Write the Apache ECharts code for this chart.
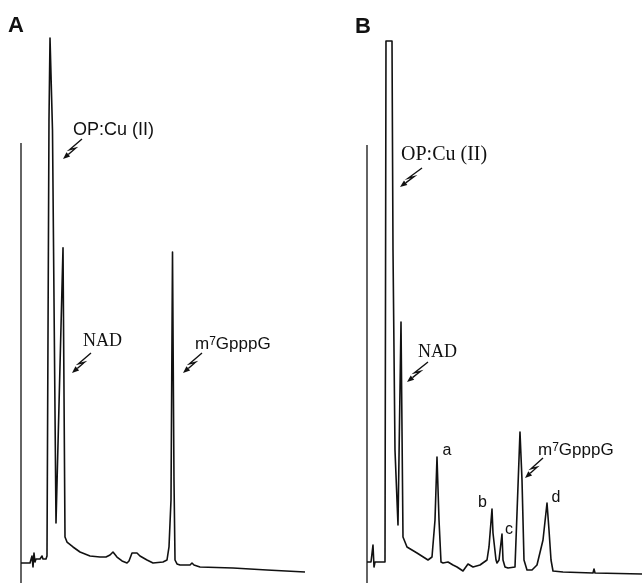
<!DOCTYPE html>
<html><head><meta charset="utf-8">
<script src="https://cdn.jsdelivr.net/npm/echarts@6/dist/echarts.min.js"></script>
<style>html,body{margin:0;padding:0;background:#fff}#c{width:643px;height:584px}</style>
</head><body><div id="c"></div>
<script>
// ---- Panel A chromatogram (retention axis 0..100, absorbance 0..100, arbitrary units)
const timeA = [0, 3.16, 3.86, 4.21, 4.56, 4.91, 5.26, 6.67, 7.37, 7.72, 8.77, 9.12, 9.82, 10.18, 10.88, 11.05, 12.28, 14.74, 15.44, 16.14, 18.25, 20.70, 24.21, 27.72, 29.82, 31.23, 32.28, 33.68, 35.44, 37.19, 37.89, 38.95, 39.65, 40.70, 41.75, 44.21, 46.32, 49.82, 51.23, 51.93, 52.63, 53.16, 53.68, 54.04, 54.74, 55.79, 59.30, 60.00, 60.70, 62.81, 74.39, 86.32, 99.65];
const signalA = [3.67, 3.67, 4.95, 2.94, 5.50, 3.85, 4.40, 4.40, 4.95, 4.40, 4.40, 4.95, 84.95, 100, 100, 83.1, 11.0, 61.5, 8.44, 7.52, 6.61, 5.69, 4.95, 4.77, 4.77, 5.14, 5.69, 4.77, 4.04, 3.67, 4.04, 5.50, 5.14, 5.50, 4.95, 4.22, 3.67, 3.85, 4.22, 6.61, 15.23, 60.73, 18.9, 4.22, 3.49, 3.30, 3.30, 3.67, 3.30, 2.94, 2.75, 2.39, 2.02];
// ---- Panel B chromatogram
const timeB = [0, 1.45, 2.17, 2.54, 2.90, 6.52, 6.88, 9.06, 9.42, 10.14, 11.23, 12.32, 13.04, 14.49, 18.12, 22.10, 23.55, 24.64, 25.36, 26.09, 26.81, 27.54, 29.35, 31.16, 32.61, 34.78, 36.59, 38.41, 40.94, 43.48, 44.20, 45.29, 45.65, 46.74, 47.10, 47.83, 48.91, 49.28, 50.00, 51.09, 53.62, 54.35, 55.43, 56.16, 56.88, 57.97, 59.78, 61.59, 63.77, 65.22, 65.94, 66.67, 67.39, 71.01, 81.88, 82.25, 82.61, 99.64];
const signalB = [3.85, 3.85, 6.97, 2.94, 3.85, 3.85, 99.45, 99.45, 61.1, 24.4, 10.64, 47.89, 8.44, 6.61, 5.50, 4.22, 4.77, 11.56, 23.12, 11.56, 3.85, 3.67, 3.85, 3.30, 2.94, 2.20, 3.49, 2.94, 3.30, 4.22, 6.61, 13.58, 9.17, 4.22, 3.67, 4.22, 8.99, 4.22, 2.94, 2.75, 2.94, 12.84, 27.71, 18.90, 4.22, 2.39, 2.39, 3.30, 7.89, 14.68, 9.72, 4.22, 2.20, 2.02, 1.83, 2.57, 1.83, 1.65];
// injection marker heights
const injectionA = 80.73;
const injectionB = 80.37;
// ---- annotations
const panelTitles = ['A', 'B'];
const labelTextA = ['OP:Cu (II)', 'NAD', 'm7GpppG'];
const labelXA = [18.25, 21.75, 61.05];
const labelYA = [83.2, 44.31, 43.85];
const arrowsA = [[21.40, 81.47, 14.74, 77.80], [24.56, 42.20, 17.89, 38.53], [63.51, 42.20, 56.84, 38.53]];
const labelTextB = ['OP:Cu (II)', 'NAD', 'm7GpppG', 'a', 'b', 'c', 'd'];
const labelXB = [12.32, 18.48, 61.96, 28.99, 41.85, 51.45, 68.48];
const labelYB = [78.62, 42.29, 24.40, 24.31, 14.68, 9.82, 15.60];
const arrowsB = [[19.93, 76.15, 11.96, 72.66], [22.10, 40.55, 14.49, 36.88], [63.77, 22.94, 57.25, 19.27]];

const INK = '#111';
const SANS = '"Liberation Sans", Arial, sans-serif';
const SERIF = '"Liberation Serif", "Times New Roman", serif';

function zip(a, b) { return a.map((v, i) => [v, b[i]]); }

function labelStyle(text, panel) {
  if (text === 'OP:Cu (II)') {
    return panel === 0 ? { text, fontSize: 18, fontFamily: SANS } : { text, fontSize: 20, fontFamily: SERIF };
  }
  if (text === 'NAD') return { text, fontSize: 18, fontFamily: SERIF };
  if (text === 'm7GpppG') {
    return {
      text: '{m|m}{s|7}{m|GpppG}',
      rich: {
        m: { fontSize: 17, fontFamily: SANS, fill: INK },
        s: { fontSize: 12, fontFamily: SANS, fill: INK, verticalAlign: 'top' }
      }
    };
  }
  return { text, fontSize: 16, fontFamily: SANS, align: 'center' };
}

function makeLabelRender(texts, panel) {
  return function (params, api) {
    const p = api.coord([api.value(0), api.value(1)]);
    const st = Object.assign({ fill: INK, align: 'left', verticalAlign: 'middle' }, labelStyle(texts[params.dataIndex], panel));
    return { type: 'text', x: p[0], y: p[1], style: st };
  };
}

function arrowRender(params, api) {
  const s = api.coord([api.value(0), api.value(1)]);
  const e = api.coord([api.value(2), api.value(3)]);
  const mx = (s[0] + e[0]) / 2, my = (s[1] + e[1]) / 2;
  const p1 = [mx - 3, my + 0.8], p2 = [mx + 3, my - 0.8];
  const dx = e[0] - p2[0], dy = e[1] - p2[1];
  const L = Math.hypot(dx, dy), ux = dx / L, uy = dy / L;
  const hl = 7, hw = 2.8;
  const base = [e[0] - ux * hl, e[1] - uy * hl];
  const tri = [e, [base[0] - uy * hw, base[1] + ux * hw], [base[0] + uy * hw, base[1] - ux * hw]];
  return {
    type: 'group', children: [
      { type: 'polyline', shape: { points: [s, p1, p2, base] }, style: { stroke: INK, lineWidth: 1.4, fill: null } },
      { type: 'polygon', shape: { points: tri }, style: { fill: INK } }
    ]
  };
}

const axisCommon = { type: 'value', min: 0, max: 100, show: false };
const lineCommon = { type: 'line', showSymbol: false, symbol: 'none', clip: false, animation: false };

const chart = echarts.init(document.getElementById('c'), null, { renderer: 'canvas' });
chart.setOption({
  backgroundColor: '#fff',
  animation: false,
  title: [
    { text: panelTitles[0], left: 8, top: 15, padding: 0, textStyle: { fontSize: 22, fontWeight: 'bold', fontFamily: SANS, color: INK } },
    { text: panelTitles[1], left: 355, top: 16, padding: 0, textStyle: { fontSize: 22, fontWeight: 'bold', fontFamily: SANS, color: INK } }
  ],
  grid: [
    { left: 21, top: 38, width: 285, height: 545 },
    { left: 367, top: 38, width: 276, height: 545 }
  ],
  xAxis: [Object.assign({ gridIndex: 0 }, axisCommon), Object.assign({ gridIndex: 1 }, axisCommon)],
  yAxis: [Object.assign({ gridIndex: 0 }, axisCommon), Object.assign({ gridIndex: 1 }, axisCommon)],
  series: [
    Object.assign({}, lineCommon, { xAxisIndex: 0, yAxisIndex: 0, data: [[0, 0], [0, injectionA]], lineStyle: { color: INK, width: 1.3 } }),
    Object.assign({}, lineCommon, { xAxisIndex: 0, yAxisIndex: 0, data: zip(timeA, signalA), lineStyle: { color: INK, width: 1.6, join: 'round' } }),
    Object.assign({}, lineCommon, { xAxisIndex: 1, yAxisIndex: 1, data: [[0, 0], [0, injectionB]], lineStyle: { color: INK, width: 1.3 } }),
    Object.assign({}, lineCommon, { xAxisIndex: 1, yAxisIndex: 1, data: zip(timeB, signalB), lineStyle: { color: INK, width: 1.6, join: 'round' } }),
    { type: 'custom', xAxisIndex: 0, yAxisIndex: 0, clip: false, data: zip(labelXA, labelYA), renderItem: makeLabelRender(labelTextA, 0), silent: true },
    { type: 'custom', xAxisIndex: 1, yAxisIndex: 1, clip: false, data: zip(labelXB, labelYB), renderItem: makeLabelRender(labelTextB, 1), silent: true },
    { type: 'custom', xAxisIndex: 0, yAxisIndex: 0, clip: false, data: arrowsA, renderItem: arrowRender, silent: true },
    { type: 'custom', xAxisIndex: 1, yAxisIndex: 1, clip: false, data: arrowsB, renderItem: arrowRender, silent: true }
  ]
});
</script></body></html>
